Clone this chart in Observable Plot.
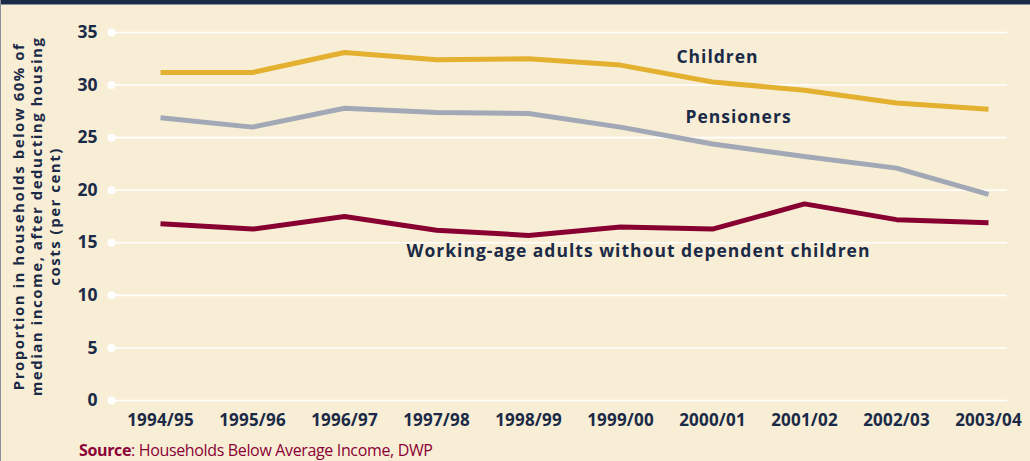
<!DOCTYPE html>
<html>
<head>
<meta charset="utf-8">
<script src="https://cdn.jsdelivr.net/npm/d3@7"></script>
<script src="https://cdn.jsdelivr.net/npm/@observablehq/plot@0.6"></script>
<style>
  html, body { margin: 0; padding: 0; background: #F8EED5; }
  #wrap { position: relative; width: 1030px; height: 461px; background: #F8EED5; overflow: hidden; }
  #topbar { position: absolute; left: 0; top: 0; width: 1030px; height: 4px; background: #1B2A47; border-bottom: 1px solid #8a909c; }
  #leftline { position: absolute; left: 0; top: 0; width: 1px; height: 461px; background: #8a909c; }
  #chart { position: absolute; left: 0; top: 0; }
  #source { position: absolute; left: 79px; top: 441px; font-family: "Open Sans", sans-serif; font-size: 16px; letter-spacing: -0.35px; line-height: 18px; color: #8B0036; white-space: nowrap; }
  #source b { font-weight: 700; }
</style>
</head>
<body>
<div id="wrap">
  <div id="chart"></div>
  <div id="topbar"></div>
  <div id="leftline"></div>
  <div id="source"><b>Source</b>: Households Below Average Income, DWP</div>
</div>
<script>
const years = ["1994/95","1995/96","1996/97","1997/98","1998/99","1999/00","2000/01","2001/02","2002/03","2003/04"];
const children = [31.2, 31.2, 33.1, 32.4, 32.5, 31.9, 30.3, 29.5, 28.3, 27.7];
const pensioners = [26.9, 26.0, 27.8, 27.4, 27.3, 26.0, 24.4, 23.2, 22.1, 19.6];
const workingAge = [16.8, 16.3, 17.5, 16.2, 15.7, 16.5, 16.3, 18.7, 17.2, 16.9];
const yTicks = [0, 5, 10, 15, 20, 25, 30, 35];
const seriesNames = ["Children", "Pensioners", "Working-age adults without dependent children"];
const seriesColors = ["#E3B12F", "#A3A8B6", "#880032"];
const yTitle = "Proportion in households below 60% of\nmedian income, after deducting housing\ncosts (per cent)";

const seriesValues = [children, pensioners, workingAge];
const rows = [];
seriesNames.forEach((name, i) => {
  years.forEach((yr, j) => rows.push({series: name, year: yr, value: seriesValues[i][j]}));
});

const navy = "#1B2A47";
const font = "'Open Sans', sans-serif";
const labelStyle = {fill: navy, fontSize: 17.5, fontWeight: 700, textAnchor: "middle"};

const chart = Plot.plot({
  width: 1030,
  height: 435,
  marginTop: 32,
  marginBottom: 35,
  marginLeft: 111,
  marginRight: 23,
  style: {background: "transparent", fontFamily: font},
  x: {type: "point", domain: years, range: [160, 988], padding: 0},
  y: {domain: [0, 35]},
  color: {domain: seriesNames, range: seriesColors},
  marks: [
    Plot.ruleY(yTicks, {stroke: "white", strokeWidth: 1.6}),
    Plot.dot(yTicks, {y: d => d, frameAnchor: "left", r: 4, fill: "white", stroke: "none"}),
    Plot.axisY(yTicks, {tickSize: 0, tickPadding: 14, fontSize: 17.5, fontWeight: 700, fill: navy, label: null}),
    Plot.axisX({tickSize: 0, tickPadding: 13, fontSize: 17, fontWeight: 700, fill: navy, label: null}),
    Plot.line(rows, {x: "year", y: "value", z: "series", stroke: "series", strokeWidth: 5, strokeLinejoin: "miter", strokeLinecap: "butt"}),
    Plot.text([seriesNames[0]], {x: () => "2000/01", y: () => 32.6, text: d => d, dx: 5, ...labelStyle}),
    Plot.text([seriesNames[1]], {x: () => "2000/01", y: () => 26.9, text: d => d, dx: 26, ...labelStyle}),
    Plot.text([seriesNames[2]], {x: () => "1998/99", y: () => 14.2, text: d => d, dx: 110, ...labelStyle}),
    Plot.text([yTitle], {frameAnchor: "left", dx: -75, rotate: -90, lineHeight: 1.2, fill: navy, fontSize: 15, fontWeight: 700, textAnchor: "middle", lineAnchor: "middle"})
  ]
});
const textGroups = d3.select(chart).selectAll("g[aria-label='text']").nodes();
textGroups.slice(0, 3).forEach(g => d3.select(g).selectAll("text").style("letter-spacing", "1px"));
d3.select(textGroups[3]).selectAll("text").style("letter-spacing", "1.5px");
d3.select(chart).selectAll("g[aria-label='x-axis tick label'] text").style("letter-spacing", "0.2px");
document.getElementById("chart").appendChild(chart);
</script>
</body>
</html>
